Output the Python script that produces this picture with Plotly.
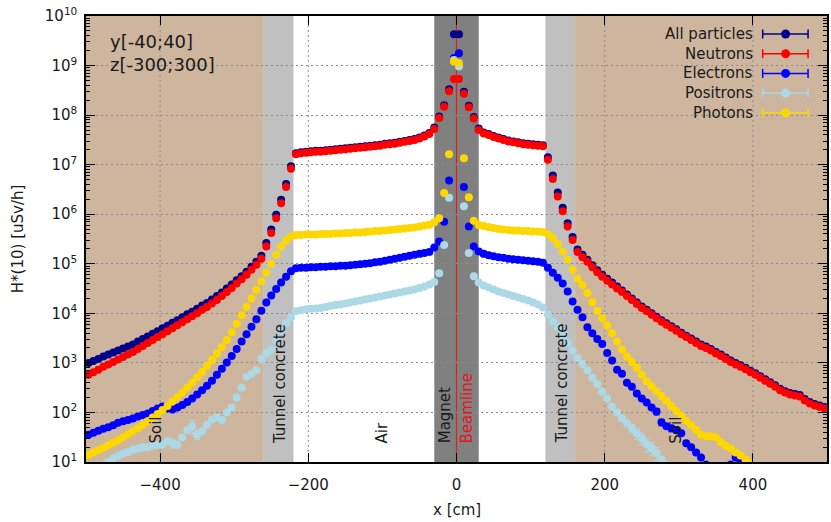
import plotly.graph_objects as go

# ---------------- data (log10 of H*(10) in uSv/h), 150 bins over x in [-500, 500] cm ----------------
N_BINS = 150
x_centers = [-500 + (i + 0.5) * 1000 / N_BINS for i in range(N_BINS)]

all_particles_log = (
    [3.00, 3.04, 3.08, 3.13, 3.17, 3.21, 3.25, 3.29, 3.33, 3.37, 3.43, 3.48, 3.53, 3.59, 3.64, 3.70, 3.75, 3.81,
     3.86, 3.92, 3.98, 4.03, 4.09, 4.16, 4.21, 4.28, 4.35, 4.42, 4.50, 4.58, 4.67, 4.75, 4.84, 4.94, 5.04, 5.16]
    + [5.42, 5.69, 5.99, 6.29, 6.61, 6.97]
    + [7.23, 7.25, 7.26, 7.27, 7.28, 7.28, 7.29, 7.30, 7.31, 7.32, 7.33, 7.34, 7.35, 7.36, 7.37, 7.38, 7.39, 7.40,
       7.42, 7.43, 7.44, 7.46, 7.48, 7.50, 7.52, 7.55, 7.59, 7.64]
    + [7.75, 7.97, 8.20, 8.52, 9.63, 9.63, 8.47, 8.19, 7.96, 7.73]
    + [7.65, 7.62, 7.58, 7.55, 7.52, 7.49, 7.47, 7.45, 7.43, 7.42, 7.41, 7.40, 7.39]
    + [7.15, 6.78, 6.44, 6.13, 5.82, 5.54]
    + [5.29, 5.18, 5.08, 4.97, 4.87, 4.78, 4.70, 4.62, 4.54, 4.46, 4.38, 4.30, 4.22, 4.14, 4.07, 4.00, 3.93, 3.86,
       3.80, 3.74, 3.68, 3.61, 3.55, 3.49, 3.43, 3.37, 3.33, 3.28, 3.22, 3.17, 3.11, 3.05, 3.00, 2.95, 2.90, 2.84,
       2.79, 2.73, 2.67, 2.61, 2.55, 2.48, 2.43, 2.39, 2.37, 2.35, 2.27, 2.21, 2.17, 2.14, 2.11]
)

neutrons_log = (
    [2.76, 2.81, 2.86, 2.92, 2.97, 3.02, 3.07, 3.12, 3.17, 3.22, 3.28, 3.34, 3.40, 3.46, 3.52, 3.58, 3.64, 3.70,
     3.76, 3.82, 3.88, 3.94, 4.00, 4.07, 4.13, 4.20, 4.27, 4.35, 4.43, 4.51, 4.60, 4.69, 4.78, 4.88, 4.98, 5.10]
    + [5.35, 5.62, 5.92, 6.22, 6.55, 6.92]
    + [7.21, 7.23, 7.24, 7.25, 7.26, 7.26, 7.27, 7.28, 7.29, 7.30, 7.31, 7.32, 7.33, 7.34, 7.35, 7.36, 7.37, 7.38,
       7.40, 7.41, 7.42, 7.44, 7.46, 7.48, 7.50, 7.53, 7.57, 7.62]
    + [7.72, 7.94, 8.17, 8.48, 8.73, 8.73, 8.43, 8.16, 7.93, 7.70]
    + [7.63, 7.60, 7.56, 7.53, 7.50, 7.47, 7.45, 7.43, 7.41, 7.40, 7.39, 7.38, 7.37]
    + [7.10, 6.71, 6.36, 6.06, 5.75, 5.48]
    + [5.24, 5.13, 5.04, 4.93, 4.83, 4.74, 4.66, 4.58, 4.50, 4.43, 4.35, 4.27, 4.19, 4.11, 4.04, 3.97, 3.90, 3.83,
       3.77, 3.71, 3.65, 3.58, 3.52, 3.46, 3.40, 3.34, 3.30, 3.25, 3.19, 3.14, 3.08, 3.02, 2.97, 2.92, 2.87, 2.81,
       2.76, 2.70, 2.64, 2.58, 2.52, 2.45, 2.40, 2.36, 2.34, 2.32, 2.24, 2.18, 2.14, 2.11, 2.08]
)

electrons_log = (
    [1.55, 1.59, 1.63, 1.67, 1.70, 1.74, 1.79, 1.82, 1.85, 1.88, 1.92, 1.95, 1.98, 2.03, 2.08, 2.12, 2.08, 2.06,
     2.10, 2.15, 2.21, 2.28, 2.36, 2.45, 2.54, 2.64, 2.76, 2.88, 3.01, 3.14, 3.28, 3.43, 3.58, 3.73, 3.88, 4.05]
    + [4.22, 4.36, 4.49, 4.62, 4.74, 4.85]
    + [4.91, 4.92, 4.92, 4.93, 4.93, 4.94, 4.94, 4.95, 4.95, 4.96, 4.96, 4.97, 4.98, 4.99, 5.00, 5.01, 5.03, 5.04,
       5.06, 5.08, 5.10, 5.12, 5.14, 5.16, 5.18, 5.20, 5.22, 5.24]
    + [5.33, 5.45, 5.85, 6.68, 9.15, 9.25, 6.55, 5.75, 5.35, 5.25]
    + [5.20, 5.17, 5.15, 5.13, 5.12, 5.10, 5.09, 5.08, 5.07, 5.06, 5.05, 5.04, 5.02]
    + [4.92, 4.82, 4.72, 4.60, 4.44, 4.24]
    + [4.07, 3.92, 3.72, 3.60, 3.48, 3.38, 3.20, 3.05, 2.86, 2.78, 2.60, 2.52, 2.38, 2.28, 2.20, 2.10, 2.02, 1.80,
       1.72, 1.68, 1.64, 1.58, 1.38, 1.30, 1.19, 1.09, 0.95, 0.90, 0.85, 0.82, 0.85, 0.95, 1.09, 1.02, 0.90, 0.80,
       None, None, None, None, None, None, None, None, None, None, None, None, None, None, None]
)

positrons_log = (
    [None, None, None, 0.93, 1.00, 1.07, 1.12, 1.17, 1.20, 1.25, 1.27, 1.30, 1.30, 1.33, 1.35, 1.35, 1.42, 1.38,
     1.35, 1.50, 1.65, 1.72, 1.55, 1.62, 1.75, 1.86, 1.90, 1.85, 2.00, 2.10, 2.30, 2.50, 2.72, 2.78, 2.85, 3.08]
    + [3.20, 3.27, 3.45, 3.65, 3.80, 3.92]
    + [4.04, 4.06, 4.08, 4.09, 4.10, 4.11, 4.13, 4.15, 4.17, 4.18, 4.20, 4.22, 4.24, 4.26, 4.28, 4.30, 4.32, 4.34,
       4.36, 4.38, 4.40, 4.42, 4.44, 4.46, 4.48, 4.51, 4.54, 4.58]
    + [4.63, 4.81, 5.38, 6.33, 9.11, 8.98, 6.16, 5.22, 4.75, 4.62]
    + [4.56, 4.52, 4.48, 4.44, 4.41, 4.38, 4.35, 4.32, 4.29, 4.26, 4.22, 4.18, 4.12]
    + [3.97, 3.84, 3.72, 3.55, 3.40, 3.25]
    + [3.10, 2.98, 2.85, 2.70, 2.57, 2.42, 2.28, 2.12, 2.00, 1.88, 1.78, 1.68, 1.58, 1.48, 1.36, 1.28, 1.18, 1.05,
       0.95, None, None, None, None, None, None, None, None, None, None, None, None, None, None, None, None, None,
       None, None, None, None, None, None, None, None, None, None, None, None, None, None, None]
)

photons_log = (
    [1.14, 1.19, 1.24, 1.29, 1.34, 1.39, 1.44, 1.50, 1.56, 1.62, 1.68, 1.75, 1.82, 1.90, 1.97, 2.05, 2.13, 2.22,
     2.31, 2.40, 2.50, 2.60, 2.71, 2.82, 2.94, 3.06, 3.19, 3.32, 3.46, 3.62, 3.79, 3.96, 4.13, 4.30, 4.47, 4.64]
    + [4.82, 5.00, 5.18, 5.35, 5.47, 5.55]
    + [5.58, 5.58, 5.59, 5.59, 5.59, 5.60, 5.60, 5.60, 5.61, 5.61, 5.62, 5.62, 5.63, 5.63, 5.64, 5.65, 5.66, 5.66,
       5.67, 5.68, 5.69, 5.70, 5.71, 5.72, 5.73, 5.75, 5.77, 5.79]
    + [5.84, 5.92, 6.43, 7.21, 9.08, 9.05, 7.13, 6.34, 5.87, 5.78]
    + [5.76, 5.74, 5.72, 5.70, 5.69, 5.68, 5.67, 5.67, 5.66, 5.66, 5.65, 5.65, 5.64]
    + [5.60, 5.52, 5.40, 5.25, 5.08, 4.88]
    + [4.70, 4.57, 4.41, 4.23, 4.05, 3.90, 3.76, 3.60, 3.43, 3.27, 3.13, 3.02, 2.90, 2.76, 2.63, 2.53, 2.43, 2.33,
       2.23, 2.13, 2.03, 1.93, 1.83, 1.74, 1.65, 1.55, 1.52, 1.52, 1.50, 1.40, 1.33, 1.27, 1.19, 1.13, 1.05, 0.97,
       None, None, None, None, None, None, None, None, None, None, None, None, None, None, None]
)

# relative statistical errors (bin index -> fraction) where error bars are visible
positron_rel_err = {17: 0.2, 21: 0.3, 22: 0.2, 109: 0.15, 110: 0.2, 111: 0.25, 112: 0.25, 113: 0.3, 114: 0.3, 115: 0.3}
electron_rel_err = {115: 0.15, 116: 0.15, 118: 0.15}

series_names = ["All particles", "Neutrons", "Electrons", "Positrons", "Photons"]
series_logs = [all_particles_log, neutrons_log, electrons_log, positrons_log, photons_log]
series_errs = [{}, {}, electron_rel_err, positron_rel_err, {}]
series_colors = ["#00008b", "#ff0000", "#0000ff", "#add8e6", "#ffd700"]

for s in series_logs:
    assert len(s) == N_BINS, len(s)

# material regions along x
region_edges = [-500, -260, -220, -30, 30, 120, 160, 500]
region_fills = ["#cdb69d", "#c0c0c0", None, "#808080", None, "#c0c0c0", "#cdb69d"]
region_labels = ["Soil", "Tunnel concrete", "Air", "Magnet", "Beamline", "Tunnel concrete", "Soil"]
region_label_x = [-405, -239, -100, -16, 14, 142, 297]
region_label_colors = ["#1a1a1a", "#1a1a1a", "#1a1a1a", "#1a1a1a", "#e8141a", "#1a1a1a", "#1a1a1a"]
beamline_x = 0

x_tickvals = [-400, -200, 0, 200, 400]
y_exponents = list(range(1, 11))
y_tickvals = [10 ** k for k in y_exponents]
y_ticktext = [f"10<sup>{k}</sup>" for k in y_exponents]
y_minor = [m * 10 ** k for k in range(1, 10) for m in range(2, 10)]

# ---------------- figure ----------------
W, H = 831, 522
ML, MR, MT, MB = 86, 2, 16, 60
PW, PH = W - ML - MR, H - MT - MB
FONT = "DejaVu Sans"
TXT = "#1a1a1a"
GRID = "#8c8c8c"
GRID_DASH = "2px,3px"


def px_to_paper(px, py):
    return (px - ML) / PW, 1 - (py - MT) / PH


fig = go.Figure()

for name, logs, errs, color in zip(series_names, series_logs, series_errs, series_colors):
    yvals = [None if v is None else 10 ** v for v in logs]
    err = [0 if (v is None or i not in errs) else v * errs[i] for i, v in enumerate(yvals)]
    fig.add_trace(go.Scatter(
        x=x_centers, y=yvals, mode="markers", name=name,
        marker=dict(size=8, color=color, line=dict(width=0)),
        error_y=dict(type="data", array=err, visible=bool(errs), color=color, thickness=1, width=3),
        showlegend=False, cliponaxis=True,
    ))

shapes = []
for i, fill in enumerate(region_fills):
    if fill is None:
        continue
    shapes.append(dict(type="rect", xref="x", yref="paper", x0=region_edges[i], x1=region_edges[i + 1],
                       y0=0, y1=1, fillcolor=fill, line=dict(width=0), layer="below"))
# vertical dotted grid lines (drawn as shapes so the beamline can sit on top of them)
for xv in x_tickvals:
    if xv == beamline_x:
        continue
    shapes.append(dict(type="line", xref="x", yref="paper", x0=xv, x1=xv, y0=0, y1=1,
                       line=dict(color=GRID, width=1, dash=GRID_DASH), layer="below"))
shapes.append(dict(type="line", xref="x", yref="paper", x0=beamline_x, x1=beamline_x, y0=0, y1=1,
                   line=dict(color="#dd1f1f", width=1.2), layer="below"))

annotations = []
for text, xv, col in zip(region_labels, region_label_x, region_label_colors):
    annotations.append(dict(text=text, x=xv, y=1.33, xref="x", yref="y", textangle=-90,
                            xanchor="center", yanchor="bottom", showarrow=False,
                            font=dict(family=FONT, size=15, color=col)))

# info text
for txt, py in [("y[-40;40]", 41), ("z[-300;300]", 64.5)]:
    ax_, ay_ = px_to_paper(108, py)
    annotations.append(dict(text=txt, x=ax_, y=ay_, xref="paper", yref="paper", xanchor="left",
                            yanchor="middle", showarrow=False, font=dict(family=FONT, size=18, color=TXT)))

# axis titles
tx, ty = px_to_paper(457.5, 510)
annotations.append(dict(text="x [cm]", x=tx, y=ty, xref="paper", yref="paper", showarrow=False,
                        xanchor="center", yanchor="middle", font=dict(family=FONT, size=15, color=TXT)))
tx, ty = px_to_paper(18, MT + PH / 2)
annotations.append(dict(text="H*(10) [uSv/h]", x=tx, y=ty, xref="paper", yref="paper", showarrow=False,
                        textangle=-90, xanchor="center", yanchor="middle",
                        font=dict(family=FONT, size=15, color=TXT)))

# custom legend (text + error-bar symbol)
for j, (name, color) in enumerate(zip(series_names, series_colors)):
    py = 34 + j * 19.7
    lx, ly = px_to_paper(757, py)
    annotations.append(dict(text=name, x=lx, y=ly, xref="paper", yref="paper", showarrow=False,
                            xanchor="right", yanchor="middle", font=dict(family=FONT, size=15, color=TXT)))
    x0, _ = px_to_paper(764.5, py)
    x1, _ = px_to_paper(810, py)
    xc, _ = px_to_paper(787.5, py)
    shapes.append(dict(type="line", xref="paper", yref="paper", x0=x0, x1=x1, y0=ly, y1=ly,
                       line=dict(color=color, width=1.5)))
    for xe in (x0, x1):
        shapes.append(dict(type="line", xref="paper", yref="paper", ysizemode="pixel", yanchor=ly,
                           x0=xe, x1=xe, y0=-4.5, y1=4.5, line=dict(color=color, width=1.5)))
    shapes.append(dict(type="circle", xref="paper", yref="paper", xsizemode="pixel", ysizemode="pixel",
                       xanchor=xc, yanchor=ly, x0=-4.5, x1=4.5, y0=-4.5, y1=4.5,
                       fillcolor=color, line=dict(width=0)))

axis_common = dict(
    showline=True, linecolor="black", linewidth=1.5, mirror="ticks",
    ticks="inside", ticklen=9, tickwidth=1, tickcolor="black",
    zeroline=False, tickfont=dict(family=FONT, size=15, color=TXT),
)

fig.update_layout(
    width=W, height=H,
    margin=dict(l=ML, r=MR, t=MT, b=MB),
    paper_bgcolor="white", plot_bgcolor="white",
    font=dict(family=FONT, size=15, color=TXT),
    showlegend=False,
    shapes=shapes, annotations=annotations,
    xaxis=dict(range=[-500, 500], tickmode="array", tickvals=x_tickvals, ticklabelstandoff=8,
               showgrid=False, **axis_common),
    yaxis=dict(type="log", range=[1, 10], tickmode="array", tickvals=y_tickvals, ticktext=y_ticktext,
               ticklabelstandoff=4, showgrid=True, gridcolor=GRID, griddash=GRID_DASH, gridwidth=1,
               minor=dict(tickmode="array", tickvals=y_minor, ticks="inside", ticklen=4.5,
                          tickcolor="black", showgrid=False),
               **axis_common),
)

fig.write_html("out.html")
